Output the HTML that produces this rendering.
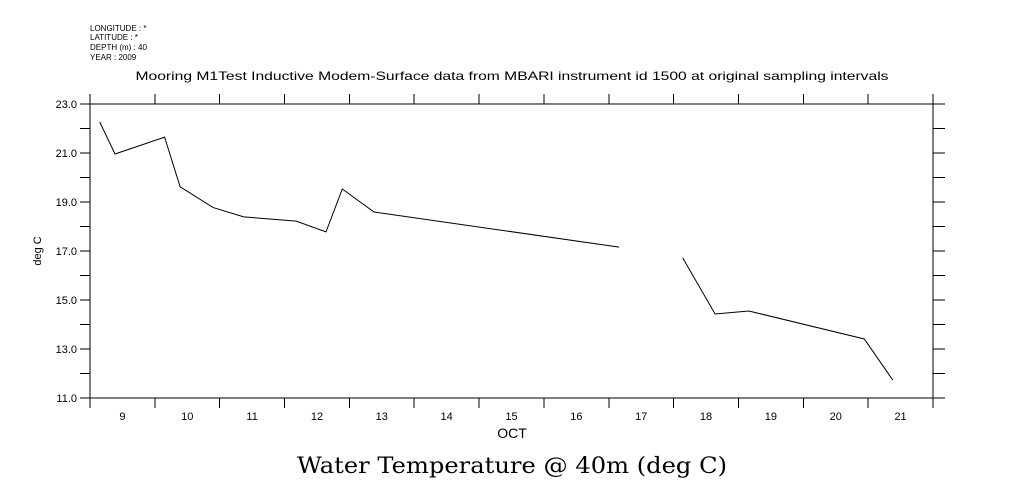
<!DOCTYPE html>
<html><head><meta charset="utf-8"><style>
html,body{margin:0;padding:0;background:#fff;}
svg{display:block;font-family:"Liberation Sans",sans-serif;}
</style></head><body>
<svg id="chart" width="1009" height="504" viewBox="0 0 1009 504" xmlns="http://www.w3.org/2000/svg">
<rect width="1009" height="504" fill="#fff"/>
<g font-size="8" fill="#000">
<text x="90" y="31">LONGITUDE : *</text>
<text x="90" y="40">LATITUDE : *</text>
<text x="90" y="50">DEPTH (m) : 40</text>
<text x="90" y="60">YEAR : 2009</text>
</g>
<text x="512" y="80" font-size="12" text-anchor="middle" textLength="753" lengthAdjust="spacingAndGlyphs">Mooring M1Test Inductive Modem-Surface data from MBARI instrument id 1500 at original sampling intervals</text>
<g id="axes"></g>
<g id="series"></g>
<text x="0" y="0" font-size="11" text-anchor="middle" transform="translate(41,251) rotate(-90)">deg C</text>
<text x="512" y="438" font-size="14" text-anchor="middle">OCT</text>
<text x="297" y="473" font-family="'DejaVu Serif','Liberation Serif',serif" font-size="22" textLength="430" lengthAdjust="spacingAndGlyphs">Water Temperature @ 40m (deg C)</text>
</svg>
<script>
const dayTicks = [9,10,11,12,13,14,15,16,17,18,19,20,21];
const yTicks = [11,13,15,17,19,21,23];
const yTickLabels = ["11.0","13.0","15.0","17.0","19.0","21.0","23.0"];
const times = [9.15,9.385,10.15,10.39,10.9,11.37,12.18,12.64,12.89,13.38,17.16,null,18.14,18.64,19.16,20.94,21.38];
const temps = [22.27,20.96,21.65,19.62,18.77,18.39,18.22,17.78,19.53,18.59,17.16,null,16.72,14.43,14.55,13.41,11.73];

const X0=90,X1=933,Y0=398,Y1=104,T0=9,T1=22,V0=11,V1=23;
function xs(t){return X0+(t-T0)/(T1-T0)*(X1-X0);}
function ys(v){return Y0-(v-V0)/(V1-V0)*(Y0-Y1);}
const NS="http://www.w3.org/2000/svg";
const axes=document.getElementById('axes');
function ln(x1,y1,x2,y2,name){
  const l=document.createElementNS(NS,'line');
  l.setAttribute('x1',x1);l.setAttribute('y1',y1);l.setAttribute('x2',x2);l.setAttribute('y2',y2);
  l.setAttribute('stroke','#000');l.setAttribute('stroke-width','1');l.setAttribute('shape-rendering','crispEdges');
  
  
  axes.appendChild(l);
}
function tx(x,y,s,anchor,size,name){
  const t=document.createElementNS(NS,'text');
  t.setAttribute('x',x);t.setAttribute('y',y);t.setAttribute('text-anchor',anchor);t.setAttribute('font-size',size);
  t.textContent=s;
  
  
  axes.appendChild(t);
}
ln(X0,Y1,X1,Y1,'top-axis');ln(X0,Y0,X1,Y0,'x-axis');ln(X0,Y1,X0,Y0,'y-axis');ln(X1,Y1,X1,Y0,'right-axis');
for(let t=T0;t<=T1;t++){
  ln(xs(t),Y0,xs(t),Y0+10,'x-tick');
  ln(xs(t),Y1,xs(t),Y1-10,'x-tick-top');
}
dayTicks.forEach(d=>tx(xs(d+0.5),Y0+22,String(d),'middle',11,'x-tick-label'));
for(let v=V0;v<=V1;v++){
  ln(X0-10,ys(v),X0,ys(v),'y-tick');
  ln(X1,ys(v),X1+12,ys(v),'y-tick-right');
}
yTicks.forEach((v,i)=>tx(77,ys(v)+4,yTickLabels[i],'end',11,'y-tick-label'));
const series=document.getElementById('series');
let seg=[];
function flush(){
  if(seg.length>1){
    const p=document.createElementNS(NS,'polyline');
    p.setAttribute('points',seg.join(' '));
    p.setAttribute('fill','none');p.setAttribute('stroke','#000');p.setAttribute('stroke-width','1');
    
    
    series.appendChild(p);
  }
  seg=[];
}
for(let i=0;i<times.length;i++){
  if(times[i]===null||temps[i]===null){flush();continue;}
  seg.push(xs(times[i]).toFixed(1)+','+ys(temps[i]).toFixed(1));
}
flush();
</script>
</body></html>
